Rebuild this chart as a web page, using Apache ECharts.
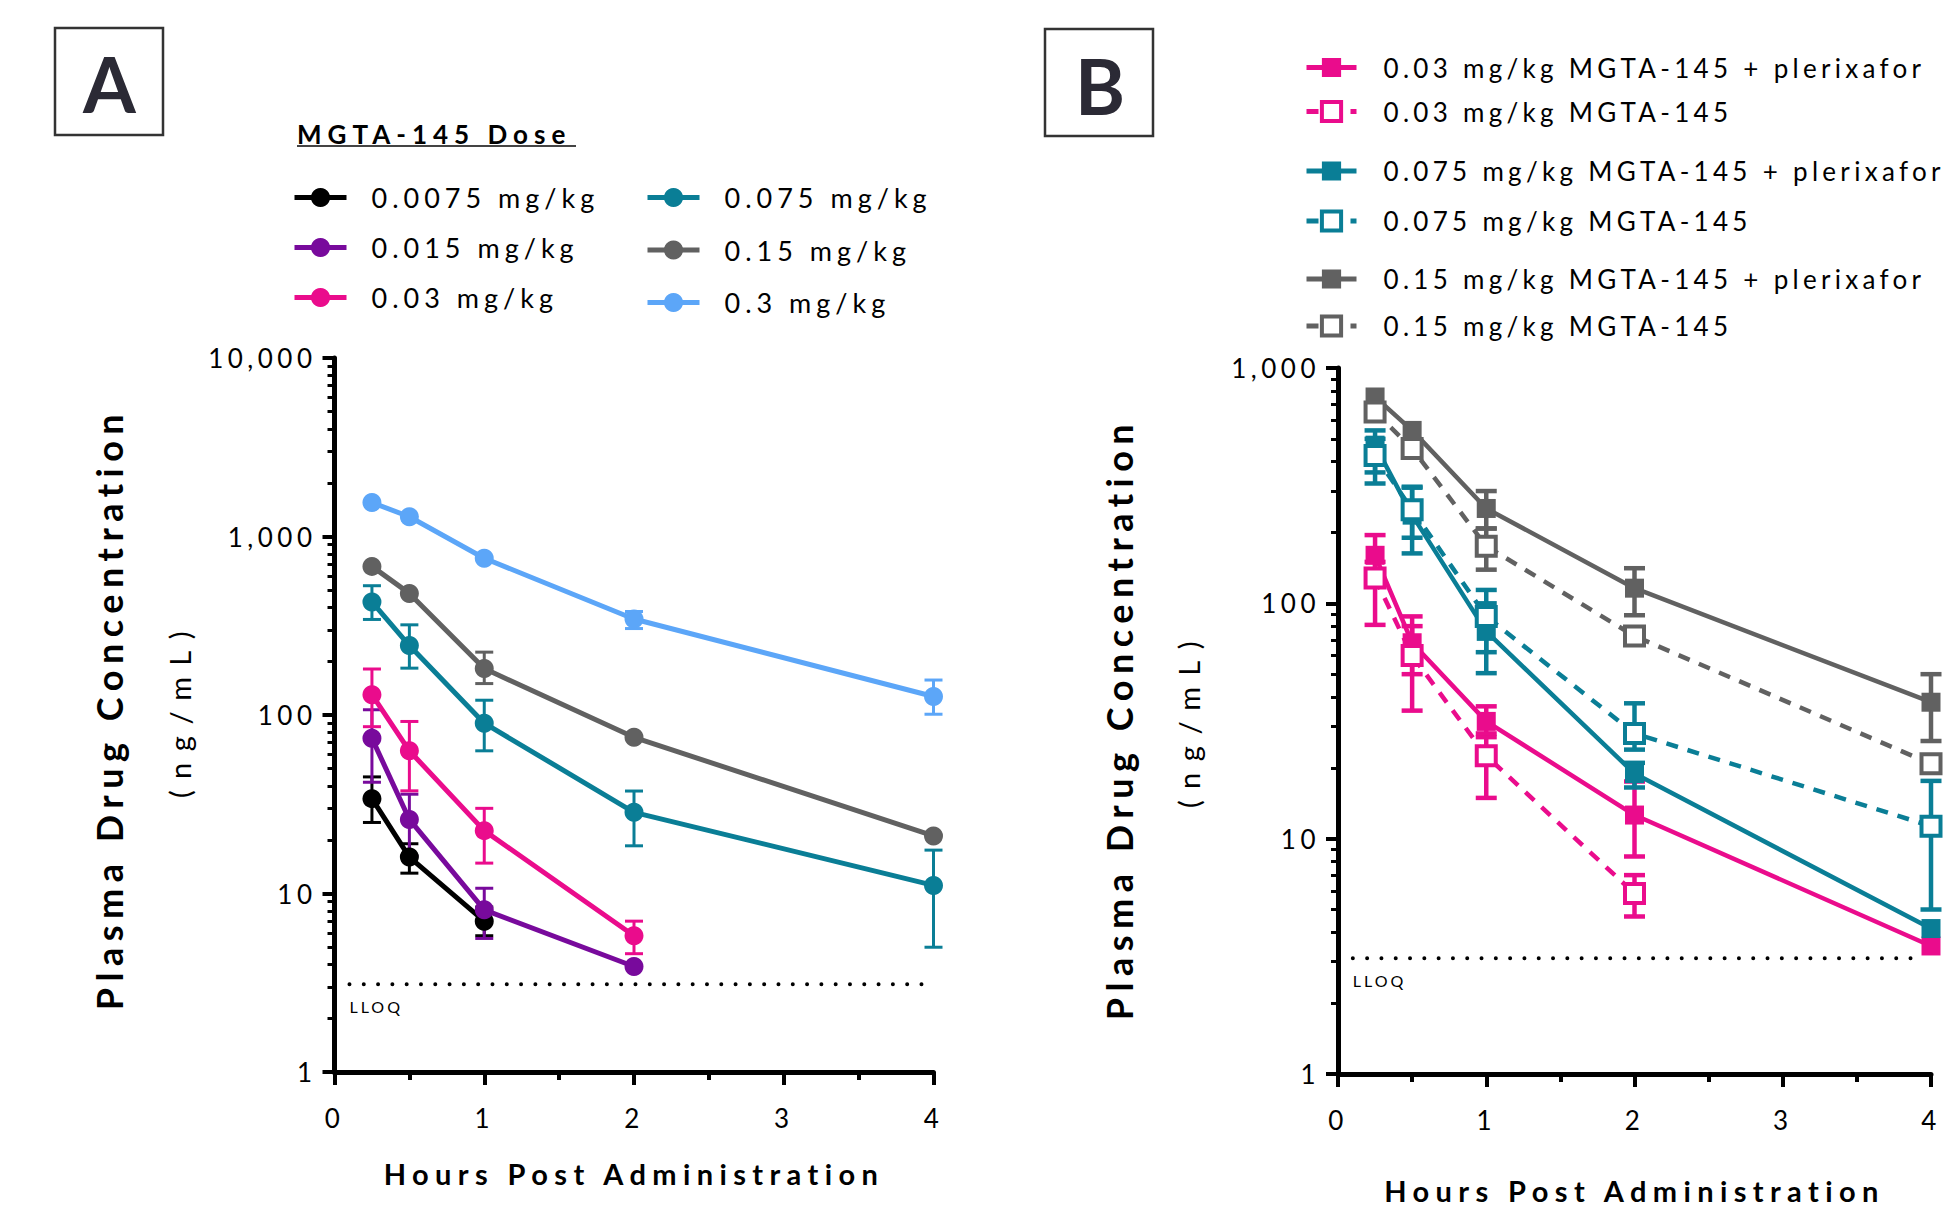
<!DOCTYPE html>
<html><head><meta charset="utf-8">
<script src="https://cdn.jsdelivr.net/npm/echarts@6/dist/echarts.min.js"></script>
<style>
html,body{margin:0;padding:0;background:#fff;}
#main{width:1957px;height:1210px;}
text[style*="lsTick"]{letter-spacing:4.5px;}
text[style*="lsLegA"]{letter-spacing:5px;}
text[style*="lsLegB"]{letter-spacing:4.3px;}
text[style*="lsLT"]{letter-spacing:6px;}
text[style*="lsXT"]{letter-spacing:6.4px;}
text[style*="lsYT"]{letter-spacing:6.5px;}
text[style*="lsYU"]{letter-spacing:11.5px;}
text[style*="lsLL"]{letter-spacing:3px;}
</style></head><body><div id="main"></div>
<script>
// ---- data ----
const hours = [0.25, 0.5, 1, 2, 4];
const xTicks = [0, 1, 2, 3, 4];
const lloq = 3.1;

// Panel A
const doseA = ['0.0075 mg/kg', '0.015 mg/kg', '0.03 mg/kg', '0.075 mg/kg', '0.15 mg/kg', '0.3 mg/kg'];
const a0075 = [34, 16, 7.0, null, null];
const a0075Lo = [25, 13, 5.8, null, null];
const a0075Hi = [45, 19, 8.4, null, null];
const a015 = [74, 26, 8.1, 3.9, null];
const a015Lo = [42, 16.2, 5.6, null, null];
const a015Hi = [107, 36, 10.7, null, null];
const a03 = [130, 63, 22.5, 5.8, null];
const a03Lo = [86, 37.6, 14.8, 4.6, null];
const a03Hi = [181, 92, 30, 7.0, null];
const a075 = [430, 245, 90, 28.5, 11.1];
const a075Lo = [343, 183, 63, 18.5, 5.0];
const a075Hi = [530, 320, 121, 37.5, 17.5];
const a15 = [680, 480, 182, 75, 21];
const a15Lo = [null, null, 150, null, null];
const a15Hi = [null, null, 225, null, null];
const a3 = [1550, 1290, 755, 345, 127];
const a3Lo = [null, null, null, 305, 101];
const a3Hi = [null, null, null, 380, 157];

// Panel B
const groupB = ['0.03 mg/kg MGTA-145 + plerixafor', '0.03 mg/kg MGTA-145',
  '0.075 mg/kg MGTA-145 + plerixafor', '0.075 mg/kg MGTA-145',
  '0.15 mg/kg MGTA-145 + plerixafor', '0.15 mg/kg MGTA-145'];
const bP03 = [160, 68, 31.5, 12.6, 3.5];
const bP03Lo = [125, 50, 27, 8.4, null];
const bP03Hi = [195, 88, 36.5, 17.5, null];
const b03 = [128, 60, 22.5, 5.85, null];
const b03Lo = [81, 35, 14.9, 4.67, null];
const b03Hi = [150, 80, 28, 7.0, null];
const bP075 = [470, 237, 76, 18.9, 4.15];
const bP075Lo = [323, 163, 50.5, 16.5, null];
const bP075Hi = [543, 313, 100, 21, null];
const b075 = [425, 250, 88, 28, 11.3];
const b075Lo = [360, 190, 62, 23.9, 5.0];
const b075Hi = [500, 310, 114, 37.6, 17.6];
const bP15 = [753, 543, 253, 116, 38];
const bP15Lo = [null, null, 208, 89, 26];
const bP15Hi = [null, null, 300, 141, 50];
const b15 = [650, 455, 175, 72.6, 20.8];
const b15Lo = [null, null, 139, null, null];
const b15Hi = [null, null, 208, null, null];

// ---- styles ----
const C = {black:'#000000', purple:'#780A9C', pink:'#EA0C8C', teal:'#0A7E96', gray:'#616161', blue:'#5CA6F8'};
const F = 'Lato';

function pairs(vals){ const o=[]; vals.forEach((v,i)=>{ if(v!=null) o.push([hours[i], v]); }); return o; }
function errs(lo, hi){ const o=[]; lo.forEach((l,i)=>{ if(l!=null && hi[i]!=null) o.push([hours[i], l, hi[i]]); }); return o; }

function lineSeries(gi, name, vals, color, opts){
  opts = opts || {};
  const empty = !!opts.empty;
  return {
    name, type:'line', xAxisIndex:gi, yAxisIndex:gi, data:pairs(vals),
    symbol: opts.symbol || 'circle', symbolSize: opts.size || 19,
    lineStyle:{color, width: opts.lw || 5, type: opts.dash || 'solid'},
    itemStyle: empty ? {color:'#ffffff', borderColor:color, borderWidth:4} : {color, borderWidth:0},
    z:3, silent:true
  };
}
function errSeries(gi, lo, hi, color, lw, cap){
  return {
    type:'custom', xAxisIndex:gi, yAxisIndex:gi, data:errs(lo, hi), encode:{x:0, y:[1,2]},
    silent:true, z:2,
    renderItem:function(params, api){
      const x = api.value(0);
      const pl = api.coord([x, api.value(1)]);
      const ph = api.coord([x, api.value(2)]);
      const st = {stroke:color, lineWidth:lw};
      const h = cap/2;
      return {type:'group', children:[
        {type:'line', shape:{x1:pl[0], y1:ph[1], x2:pl[0], y2:pl[1]}, style:st},
        {type:'line', shape:{x1:ph[0]-h, y1:ph[1], x2:ph[0]+h, y2:ph[1]}, style:st},
        {type:'line', shape:{x1:pl[0]-h, y1:pl[1], x2:pl[0]+h, y2:pl[1]}, style:st}
      ]};
    }
  };
}
function lloqSeries(gi){
  return {
    type:'line', xAxisIndex:gi, yAxisIndex:gi, data:[[0.1, lloq],[3.95, lloq]], symbol:'none', silent:true, z:1,
    lineStyle:{color:'#000', width:4, type:[0, 14.3], cap:'round'},
    markPoint:{symbol:'circle', symbolSize:0, silent:true,
      data:[{coord:[0.1, lloq], label:{show:true, formatter:'LLOQ', position:'bottom', distance:14, align:'left',
        fontSize:16, fontFamily:F+', lsLL', color:'#000'}}]}
  };
}

function xAxis(gi, gap){
  return {
    type:'value', gridIndex:gi, min:0, max:4, interval:1,
    axisLine:{show:true, onZero:false, lineStyle:{color:'#000', width:5}},
    axisTick:{show:true, length:13, lineStyle:{color:'#000', width:4}},
    minorTick:{show:true, splitNumber:2, length:8, lineStyle:{color:'#000', width:4}},
    splitLine:{show:false},
    axisLabel:{margin:33, fontSize:26, color:'#000', fontFamily:F+', lsTick',
      formatter:function(v){ return xTicks.indexOf(v) >= 0 ? String(v) : ''; }},
    name:'Hours Post Administration', nameLocation:'middle', nameGap:gap,
    nameTextStyle:{fontSize:29, fontWeight:'bold', color:'#000', fontFamily:F+', lsXT'}
  };
}
function yAxis(gi, max, gap, shift){
  return {
    type:'log', logBase:10, gridIndex:gi, min:1, max:max,
    axisLine:{show:true, onZero:false, lineStyle:{color:'#000', width:5}},
    axisTick:{show:true, length:12, lineStyle:{color:'#000', width:4}},
    minorTick:{show:true, splitNumber:9, length:7, lineStyle:{color:'#000', width:3}},
    splitLine:{show:false}, minorSplitLine:{show:false},
    axisLabel:{margin:18, fontSize:26, color:'#000', fontFamily:F+', lsTick',
      formatter:function(v){ return Number(v).toLocaleString('en-US'); }},
    name:'{a|Plasma Drug Concentration}\n{b|(ng/mL)}', nameLocation:'middle', nameRotate:90, nameGap:gap,
    nameTextStyle:{padding:[0,0,0,shift], rich:{
      a:{fontSize:36, fontWeight:'bold', color:'#000', fontFamily:F+', lsYT', lineHeight:70},
      b:{fontSize:29, color:'#000', fontFamily:F+', lsYU', lineHeight:70}
    }}
  };
}

function legendA(left, top, gap, names){
  return {
    orient:'vertical', selectedMode:false, padding:0, left, top, itemGap:gap, data:names,
    itemWidth:52, itemHeight:24, lineStyle:{width:5}, itemStyle:{borderWidth:'inherit'},
    textStyle:{fontSize:27, lineHeight:24, color:'#000', fontFamily:F+', lsLegA', padding:[0,0,0,20]}
  };
}
function legendB(top, gap, names){
  return {
    orient:'vertical', selectedMode:false, padding:0, left:1304, top, itemGap:gap, data:names,
    itemWidth:50, itemHeight:24, lineStyle:{width:5}, itemStyle:{borderWidth:'inherit'},
    textStyle:{fontSize:26, lineHeight:24, color:'#000', fontFamily:F+', lsLegB', padding:[0,0,0,22]}
  };
}

const series = [
  errSeries(0, a0075Lo, a0075Hi, C.black, 3, 18),
  errSeries(0, a015Lo, a015Hi, C.purple, 3, 18),
  errSeries(0, a03Lo, a03Hi, C.pink, 3, 18),
  errSeries(0, a075Lo, a075Hi, C.teal, 3, 18),
  errSeries(0, a15Lo, a15Hi, C.gray, 3, 18),
  errSeries(0, a3Lo, a3Hi, C.blue, 3, 18),
  lloqSeries(0),
  lineSeries(0, doseA[0], a0075, C.black),
  lineSeries(0, doseA[1], a015, C.purple),
  lineSeries(0, doseA[2], a03, C.pink),
  lineSeries(0, doseA[3], a075, C.teal),
  lineSeries(0, doseA[4], a15, C.gray),
  lineSeries(0, doseA[5], a3, C.blue),

  errSeries(1, bP03Lo, bP03Hi, C.pink, 4.5, 21),
  errSeries(1, b03Lo, b03Hi, C.pink, 4.5, 21),
  errSeries(1, bP075Lo, bP075Hi, C.teal, 4.5, 21),
  errSeries(1, b075Lo, b075Hi, C.teal, 4.5, 21),
  errSeries(1, bP15Lo, bP15Hi, C.gray, 4.5, 21),
  errSeries(1, b15Lo, b15Hi, C.gray, 4.5, 21),
  lloqSeries(1),
  lineSeries(1, groupB[0], bP03, C.pink, {symbol:'rect', lw:4.5}),
  lineSeries(1, groupB[1], b03, C.pink, {symbol:'rect', lw:4.5, empty:true, dash:[12,10]}),
  lineSeries(1, groupB[2], bP075, C.teal, {symbol:'rect', lw:4.5}),
  lineSeries(1, groupB[3], b075, C.teal, {symbol:'rect', lw:4.5, empty:true, dash:[12,10]}),
  lineSeries(1, groupB[4], bP15, C.gray, {symbol:'rect', lw:4.5}),
  lineSeries(1, groupB[5], b15, C.gray, {symbol:'rect', lw:4.5, empty:true, dash:[12,10]})
];

const option = {
  animation:false,
  backgroundColor:'#ffffff',
  grid:[
    {left:334.5, top:358, width:599, height:714, containLabel:false},
    {left:1338, top:368, width:593, height:708, containLabel:false}
  ],
  xAxis:[xAxis(0, 87), xAxis(1, 102)],
  yAxis:[yAxis(0, 10000, 120.5, 12), yAxis(1, 1000, 114.5, 4)],
  legend:[
    legendA(292, 184, 23, doseA.slice(0,3)),
    legendA(645, 184, 25.5, doseA.slice(3,6)),
    legendB(54.5, 18, groupB.slice(0,2)),
    legendB(158, 24, groupB.slice(2,4)),
    legendB(266, 21, groupB.slice(4,6))
  ],
  graphic:[
    {type:'rect', shape:{x:55, y:28, width:108, height:107}, style:{fill:'#fff', stroke:'#333', lineWidth:2.5}},
    {type:'text', x:109.5, y:83, style:{text:'A', fontSize:76, fontWeight:'bold', fontFamily:F, fill:'#2B2A35', align:'center', verticalAlign:'middle'}},
    {type:'rect', shape:{x:1045, y:29, width:108, height:107}, style:{fill:'#fff', stroke:'#333', lineWidth:2.5}},
    {type:'text', x:1100, y:85, style:{text:'B', fontSize:76, fontWeight:'bold', fontFamily:F, fill:'#2B2A35', align:'center', verticalAlign:'middle'}},
    {type:'text', x:297, y:134, style:{text:'MGTA-145 Dose', fontSize:26, fontWeight:'bold', fontFamily:F+', lsLT', fill:'#000', align:'left', verticalAlign:'middle'}},
    {type:'line', shape:{x1:297, y1:146, x2:576, y2:146}, style:{stroke:'#444', lineWidth:2}}
  ],
  series: series
};

const chart = echarts.init(document.getElementById('main'), null, {renderer:'svg', width:1957, height:1210});
chart.setOption(option);
</script></body></html>
